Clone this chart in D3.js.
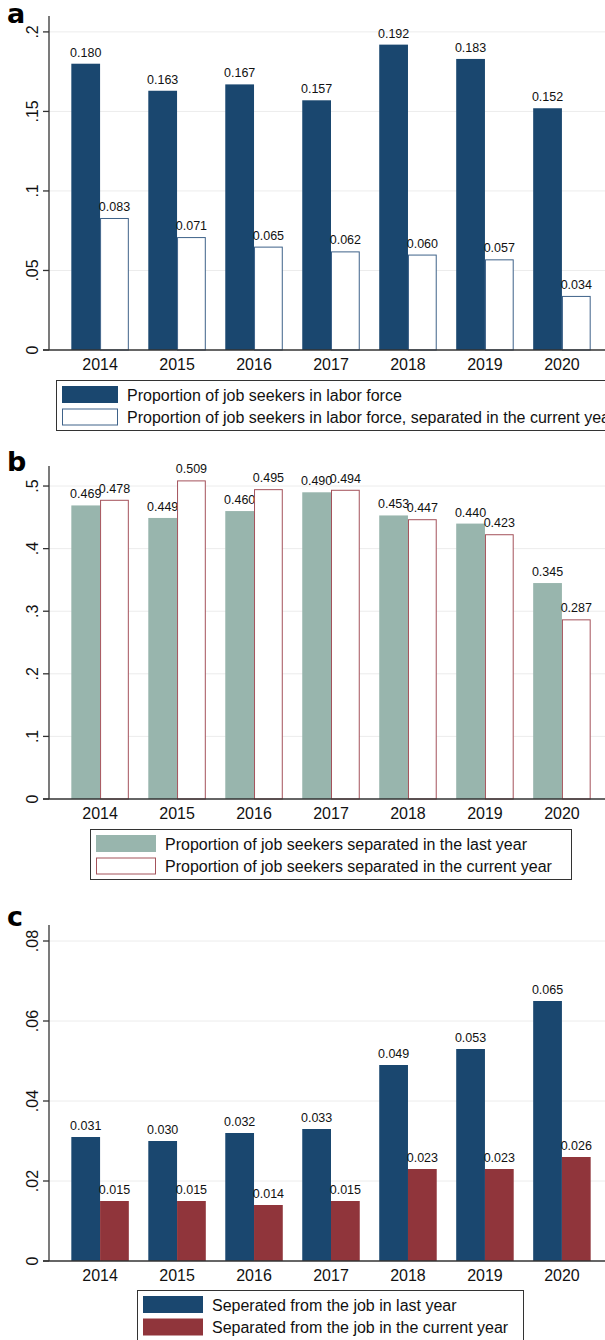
<!DOCTYPE html>
<meta charset="utf-8">
<style>
  body { margin: 0; background: #fff; }
  svg { display: block; font-family: "Liberation Sans", Arial, sans-serif; }
</style>
<body>
<script src="https://cdn.jsdelivr.net/npm/d3@7"></script>
<script>

// Data
const years = ["2014", "2015", "2016", "2017", "2018", "2019", "2020"];

// panel a
const jobSeekersLabor = [0.180, 0.163, 0.167, 0.157, 0.192, 0.183, 0.152];
const jobSeekersLaborSepCurrent = [0.083, 0.071, 0.065, 0.062, 0.060, 0.057, 0.034];
const ticksA = [0, 0.05, 0.1, 0.15, 0.2];
const tickLabelsA = ["0", ".05", ".1", ".15", ".2"];

// panel b
const sepLastYear = [0.469, 0.449, 0.460, 0.490, 0.453, 0.440, 0.345];
const sepCurrentYear = [0.478, 0.509, 0.495, 0.494, 0.447, 0.423, 0.287];
const ticksB = [0, 0.1, 0.2, 0.3, 0.4, 0.5];
const tickLabelsB = ["0", ".1", ".2", ".3", ".4", ".5"];

// panel c
const jobLastYear = [0.031, 0.030, 0.032, 0.033, 0.049, 0.053, 0.065];
const jobCurrentYear = [0.015, 0.015, 0.014, 0.015, 0.023, 0.023, 0.026];
const ticksC = [0, 0.02, 0.04, 0.06, 0.08];
const tickLabelsC = ["0", ".02", ".04", ".06", ".08"];

const navy = "#1a476f", maroon = "#90353b", sage = "#98b5ad";

const svg = d3.select("body").append("svg")
    .attr("width", 605)
    .attr("height", 1340);

// one Stata-like grouped bar panel
function drawPanel(p) {
  const g = svg.append("g");

  const x0 = d3.scaleBand()
      .domain(years)
      .range([49, 613])
      .paddingInner(0.253)
      .paddingOuter(0.29);
  const x1 = d3.scaleBand()
      .domain([0, 1])
      .range([0, x0.bandwidth()]);
  const y = d3.scaleLinear()
      .domain([0, p.ymax])
      .range([p.bottom, p.top]);

  // panel letter
  g.append("text")
      .attr("x", 7)
      .attr("y", p.letterY)
      .style("font-family", "'DejaVu Sans', Arial, sans-serif")
      .style("font-weight", "bold")
      .style("font-size", "27px")
      .text(p.letter);

  // light grid
  g.selectAll(".grid").data(p.ticks.slice(1)).enter()
    .append("line")
      .attr("x1", 49).attr("x2", 605)
      .attr("y1", d => y(d)).attr("y2", d => y(d))
      .attr("stroke", "#ececec")
      .attr("stroke-width", 1);

  // bars
  const series = [p.s1, p.s2];
  series.forEach((s, k) => {
    g.selectAll(".bar" + k).data(s.values).enter()
      .append("rect")
        .attr("x", (d, i) => x0(years[i]) + x1(k) + (s.stroke ? 0.5 : 0))
        .attr("y", d => y(d) + (s.stroke ? 0.5 : 0))
        .attr("width", x1.bandwidth() - (s.stroke ? 1 : 0))
        .attr("height", d => y(0) - y(d) - (s.stroke ? 0.5 : 0))
        .attr("fill", s.fill)
        .attr("stroke", s.stroke || "none")
        .attr("stroke-width", 1);

    g.selectAll(".lab" + k).data(s.values).enter()
      .append("text")
        .attr("x", (d, i) => x0(years[i]) + x1(k) + x1.bandwidth() / 2)
        .attr("y", d => y(d) - 7)
        .attr("text-anchor", "middle")
        .style("font-size", "12.5px")
        .attr("fill", "#111")
        .text(d => d.toFixed(3));
  });

  // y axis
  g.append("line")
      .attr("x1", 49).attr("x2", 49)
      .attr("y1", p.top).attr("y2", p.bottom)
      .attr("stroke", "#333").attr("stroke-width", 1.3);
  g.selectAll(".ytick").data(p.ticks).enter()
    .append("line")
      .attr("x1", 43).attr("x2", 49)
      .attr("y1", d => y(d)).attr("y2", d => y(d))
      .attr("stroke", "#333").attr("stroke-width", 1.3);
  g.selectAll(".ylab").data(p.ticks).enter()
    .append("text")
      .attr("transform", d => "translate(37.5," + y(d) + ") rotate(-90)")
      .attr("text-anchor", "middle")
      .style("font-size", "16px")
      .attr("fill", "#111")
      .text((d, i) => p.tickLabels[i]);

  // x axis
  g.append("line")
      .attr("x1", 43).attr("x2", 605)
      .attr("y1", y(0)).attr("y2", y(0))
      .attr("stroke", "#333").attr("stroke-width", 1.3);
  g.selectAll(".xlab").data(years).enter()
    .append("text")
      .attr("x", d => x0(d) + x0.bandwidth() / 2)
      .attr("y", y(0) + 19.5)
      .attr("text-anchor", "middle")
      .style("font-size", "16px")
      .attr("fill", "#111")
      .text(d => d);

  // legend
  const lg = p.legend;
  g.append("rect")
      .attr("x", lg.x + 0.5).attr("y", lg.y + 0.5)
      .attr("width", lg.w).attr("height", 50)
      .attr("fill", "#fff")
      .attr("stroke", "#333").attr("stroke-width", 1);
  series.forEach((s, k) => {
    g.append("rect")
        .attr("x", lg.x + 6.5).attr("y", lg.y + 6.5 + k * 22.5)
        .attr("width", lg.sw).attr("height", 16)
        .attr("fill", s.fill)
        .attr("stroke", s.stroke || s.fill)
        .attr("stroke-width", 1);
    g.append("text")
        .attr("x", lg.x + lg.sw + 16)
        .attr("y", lg.y + 20.5 + k * 22.5)
        .style("font-size", "16px")
        .attr("fill", "#111")
        .text(s.name);
  });
}

drawPanel({
  letter: "a", letterY: 23,
  top: 16, bottom: 350, ymax: 0.21,
  ticks: ticksA, tickLabels: tickLabelsA,
  s1: {values: jobSeekersLabor, fill: navy, name: "Proportion of job seekers in labor force"},
  s2: {values: jobSeekersLaborSepCurrent, fill: "#fff", stroke: "#3e6289",
       name: "Proportion of job seekers in labor force, separated in the current year"},
  legend: {x: 56, y: 380, w: 580, sw: 55}
});

drawPanel({
  letter: "b", letterY: 471,
  top: 466, bottom: 799, ymax: 0.532,
  ticks: ticksB, tickLabels: tickLabelsB,
  s1: {values: sepLastYear, fill: sage, name: "Proportion of job seekers separated in the last year"},
  s2: {values: sepCurrentYear, fill: "#fff", stroke: "#a4525b",
       name: "Proportion of job seekers separated in the current year"},
  legend: {x: 90, y: 829, w: 481, sw: 59}
});

drawPanel({
  letter: "c", letterY: 926,
  top: 925, bottom: 1261, ymax: 0.084,
  ticks: ticksC, tickLabels: tickLabelsC,
  s1: {values: jobLastYear, fill: navy, name: "Seperated from the job in last year"},
  s2: {values: jobCurrentYear, fill: maroon, name: "Separated from the job in the current year"},
  legend: {x: 137, y: 1290, w: 386, sw: 59}
});

</script>
</body>
